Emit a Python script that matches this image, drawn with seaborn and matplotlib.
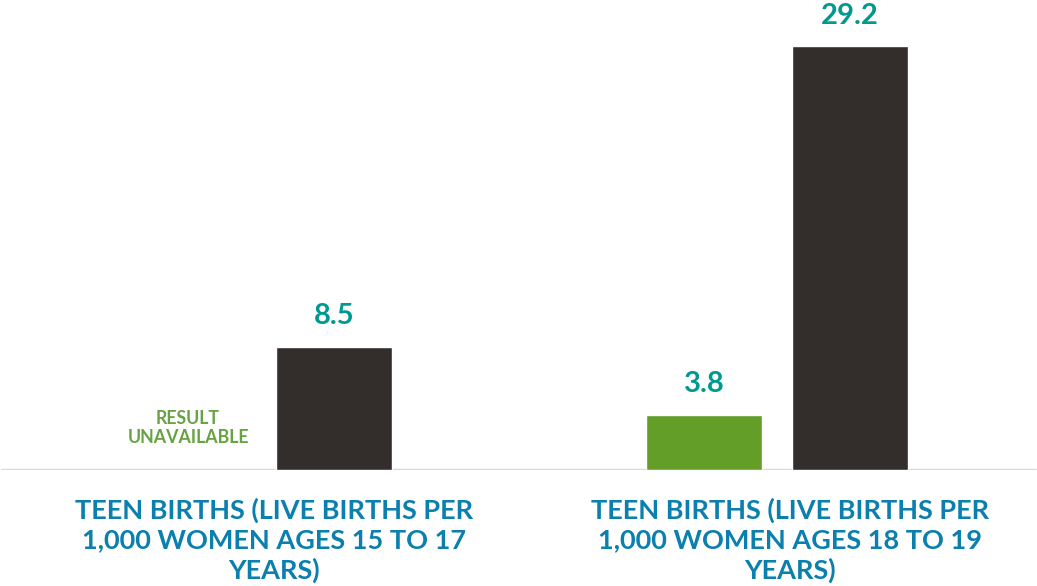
import numpy as np
import pandas as pd
import matplotlib.pyplot as plt
import seaborn as sns

categories = ['TEEN BIRTHS (LIVE BIRTHS PER\n1,000 WOMEN AGES 15 TO 17\nYEARS)',
              'TEEN BIRTHS (LIVE BIRTHS PER\n1,000 WOMEN AGES 18 TO 19\nYEARS)']
series = ['County', 'State']
county_vals = [np.nan, 3.8]
state_vals = [8.5, 29.2]
value_labels = [['RESULT\nUNAVAILABLE', '3.8'], ['8.5', '29.2']]

df = pd.DataFrame({
    'category': categories * 2,
    'series': [series[0]] * 2 + [series[1]] * 2,
    'value': county_vals + state_vals,
})

sns.set_style('white')
plt.rcParams['font.family'] = ['Lato', 'DejaVu Sans']

fig = plt.figure(figsize=(10.37, 5.86), dpi=100)
ax = fig.add_axes([0, 0.198, 1, 0.802])

palette = {'County': '#639e29', 'State': '#332e2b'}
sns.barplot(data=df, x='category', y='value', hue='series', palette=palette,
            width=0.566, gap=0.21, legend=False, ax=ax, saturation=1)

ax.set_xlim(-0.506, 1.504)
ax.set_ylim(0, 32.4)
sns.despine(ax=ax, left=True, top=True, right=True, bottom=True)
ax.set_yticks([])
ax.set_xlabel('')
ax.set_ylabel('')
ax.axhline(0, color='#d9d9d9', lw=2.5, xmin=0.002, xmax=0.998, zorder=0)

# value labels
offset = 0.1415
for i, vals in enumerate(zip(county_vals, state_vals)):
    for j, v in enumerate(vals):
        x = i + (-offset if j == 0 else offset)
        if np.isnan(v):
            ax.text(x, 2.9, value_labels[j][i], ha='center', va='center',
                    color='#67a243', fontsize=12.8, fontweight='bold', linespacing=1.2)
        else:
            ax.text(x, v + 1.2, value_labels[j][i], ha='center', va='bottom',
                    color='#00998f', fontsize=21, fontweight='bold')

ax.set_xticks([0.025, 1.025])
ax.set_xticklabels(categories, color='#0b7fad', fontsize=19.5, fontweight='bold',
                   linespacing=1.25)
ax.tick_params(axis='x', length=0, pad=20)

plt.savefig('out.png', dpi=100)
